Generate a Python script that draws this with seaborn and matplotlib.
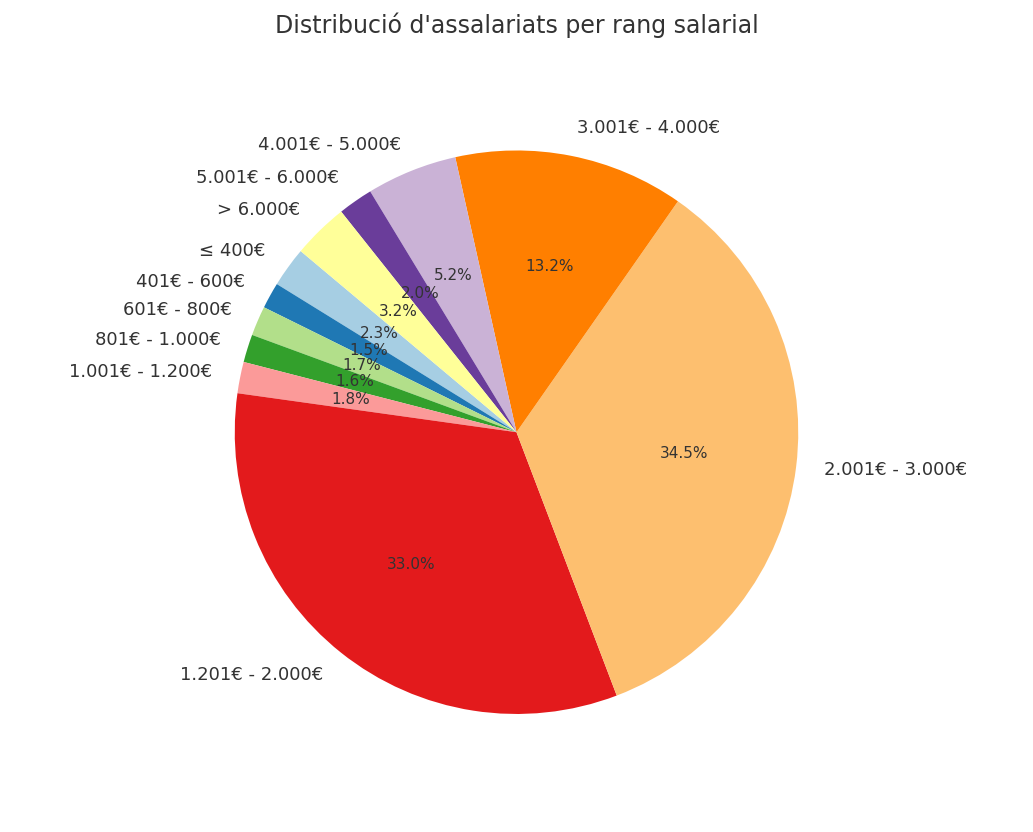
import matplotlib
matplotlib.use("Agg")
import matplotlib.pyplot as plt
import seaborn as sns

# Salary ranges and their share of employees
labels = ["≤ 400€", "401€ - 600€", "601€ - 800€", "801€ - 1.000€", "1.001€ - 1.200€",
          "1.201€ - 2.000€", "2.001€ - 3.000€", "3.001€ - 4.000€", "4.001€ - 5.000€",
          "5.001€ - 6.000€", "> 6.000€"]
shares = [2.3, 1.5, 1.7, 1.6, 1.8, 33.0, 34.5, 13.2, 5.2, 2.0, 3.2]

sns.set_theme(style="white")
colors = sns.color_palette("Paired", len(labels))

fig, ax = plt.subplots(figsize=(10.33, 8.32), dpi=100)
ax.pie(shares, labels=labels, colors=colors, autopct="%1.1f%%", startangle=140,
       wedgeprops={"linewidth": 0}, textprops={"fontsize": 13, "color": "#333333"})
for t in ax.texts:
    if t.get_text().endswith("%"):
        t.set_fontsize(11)
fig.suptitle("Distribució d'assalariats per rang salarial", fontsize=17,
             color="#333333", y=0.985)
ax.axis("equal")
plt.subplots_adjust(left=0.02, right=0.98, top=0.853, bottom=0.108)
plt.savefig("out.png")
